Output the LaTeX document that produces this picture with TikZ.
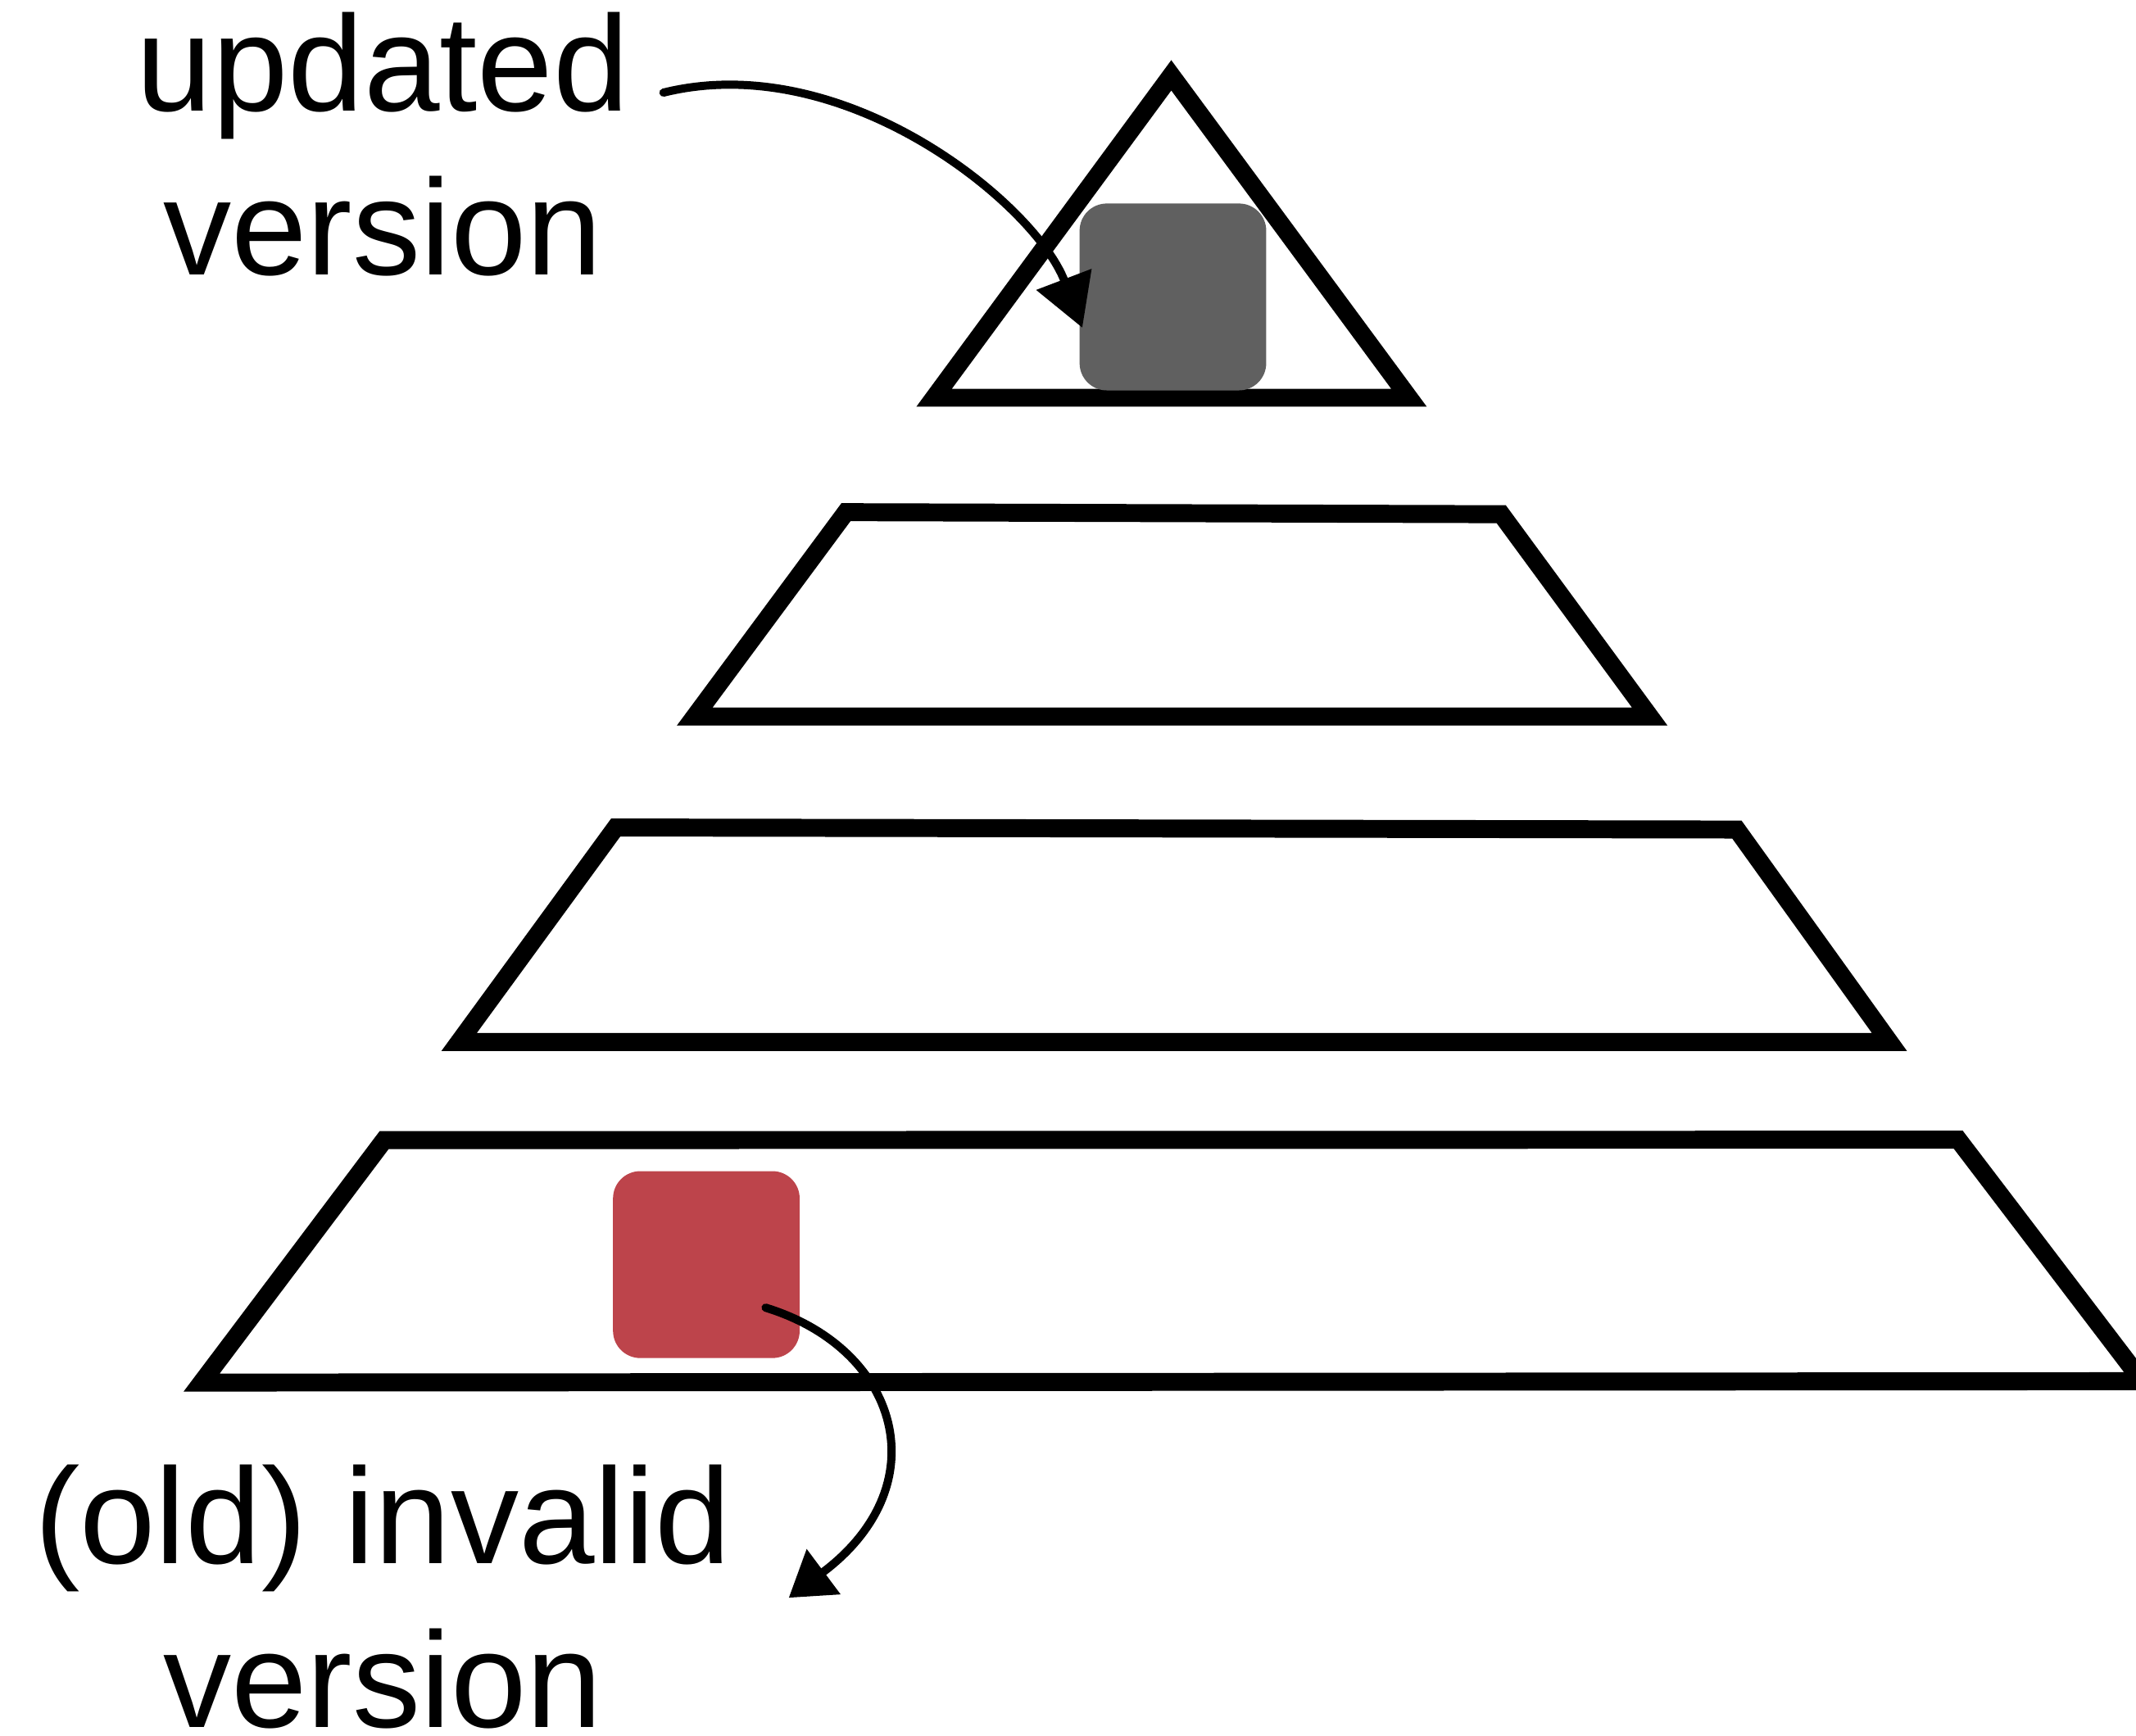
\documentclass[tikz,border=0pt]{standalone}
\usepackage{fontspec}
\setmainfont{Liberation Sans}
\usetikzlibrary{arrows.meta}
\definecolor{boxgray}{RGB}{96,96,96}
\definecolor{boxred}{RGB}{189,68,75}
\begin{document}
\begin{tikzpicture}[x=0.5pt,y=-0.5pt,
  layer/.style={draw=black,line width=6.6pt,line join=miter},
  vbox/.style={rectangle,rounded corners=10pt,minimum width=68.5pt,minimum height=68.6pt,inner sep=0pt},
  lbl/.style={font=\fontsize{50}{60}\selectfont,align=center,anchor=base,inner sep=0pt},
  sketch/.style={line width=3pt,line cap=round}]
\useasboundingbox (0,0) rectangle (1568,1274);
% layers
\draw[layer] (859.8,55.3) -- (1034.3,292) -- (685.7,292) -- cycle;
\draw[layer] (621,376) -- (1102,377.5) -- (1211,526) -- (510,526) -- cycle;
\draw[layer] (452,607.5) -- (1275,609) -- (1387,765) -- (337,765) -- cycle;
\draw[layer] (282,837) -- (1437.5,836.7) -- (1572.5,1014) -- (148,1015) -- cycle;
% version boxes
\node[vbox,fill=boxgray] (gbox) at (861,218) {};
\node[vbox,fill=boxred] (rbox) at (518.5,928.4) {};
% labels (anchor base = baseline of the last line)
\node[lbl] (upd) at (281,201.5) {updated\\version};
\node[lbl] (old) at (281,1268) {(old) invalid\\version};
% arrows
\coordinate (a1s) at (487,68);
\coordinate (a1e) at (794.5,240.6);
\coordinate (a2s) at (562,960);
\coordinate (a2e) at (579,1173);
\draw[sketch,-{Triangle[length=19pt,width=21pt]}] (a1s) .. controls (620,35) and (760,150) .. (a1e);
\draw[sketch,-{Triangle[length=16pt,width=20pt]}] (a2s) .. controls (660,990) and (690,1090) .. (a2e);
\end{tikzpicture}
\end{document}
